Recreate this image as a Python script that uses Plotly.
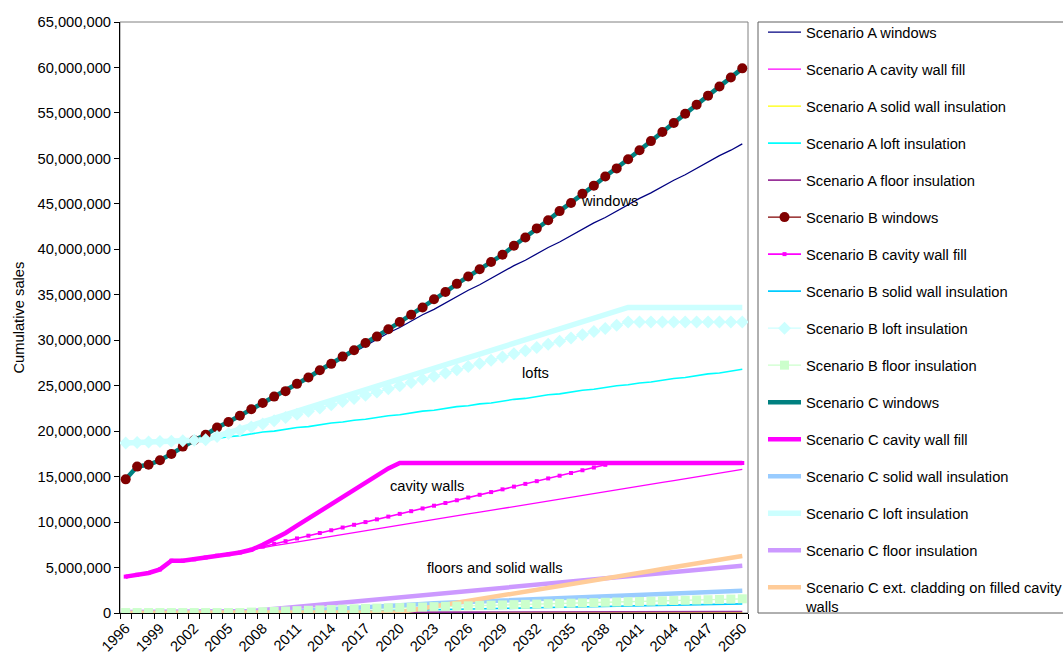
import plotly.graph_objects as go

# ---------------------------------------------------------------
# Cumulative sales of insulation measures and windows, 1996-2050
# (all values in millions of units)
# ---------------------------------------------------------------
years = list(range(1996, 2051))
tick_years = list(range(1996, 2051, 3))

# shared history 1996-2014 for windows
windows_hist = [14.7, 16.1, 16.3, 16.8, 17.5, 18.3, 19.0, 19.6, 20.4, 21.0,
                21.7, 22.4, 23.1, 23.8, 24.4, 25.2, 25.9, 26.7, 27.4]
a_windows_proj = [28.1, 28.7, 29.4, 30.1, 30.8, 31.4, 32.1, 32.8, 33.4, 34.1,
                  34.8, 35.5, 36.1, 36.8, 37.5, 38.2, 38.8, 39.5, 40.2, 40.8,
                  41.5, 42.2, 42.9, 43.5, 44.2, 44.9, 45.6, 46.2, 46.9, 47.6,
                  48.2, 48.9, 49.6, 50.3, 50.9, 51.6]
b_windows_proj = [28.2, 28.9, 29.7, 30.4, 31.2, 32.0, 32.8, 33.6, 34.5, 35.3,
                  36.2, 37.0, 37.8, 38.6, 39.4, 40.4, 41.3, 42.3, 43.2, 44.2,
                  45.1, 46.1, 47.0, 48.0, 48.9, 49.9, 50.9, 51.9, 52.9, 53.9,
                  54.9, 55.9, 56.9, 57.9, 58.9, 59.9]

# shared history 1996-2007 for cavity wall fill
cavity_hist = [4.0, 4.2, 4.4, 4.8, 5.75, 5.75, 5.9, 6.1, 6.3, 6.45, 6.65, 6.95]
a_cavity_proj = [7.20, 7.41, 7.61, 7.82, 8.02, 8.23, 8.43, 8.64, 8.84, 9.05,
                 9.25, 9.46, 9.66, 9.87, 10.07, 10.28, 10.48, 10.68, 10.89, 11.09,
                 11.30, 11.50, 11.71, 11.91, 12.12, 12.32, 12.53, 12.73, 12.94, 13.14,
                 13.35, 13.55, 13.75, 13.96, 14.16, 14.37, 14.57, 14.78, 14.98, 15.19,
                 15.39, 15.60, 15.80]
b_cavity_proj = [7.3, 7.6, 7.9, 8.2, 8.5, 8.8, 9.1, 9.4, 9.7, 10.0,
                 10.3, 10.6, 10.9, 11.2, 11.5, 11.8, 12.1, 12.4, 12.7, 13.0,
                 13.3, 13.6, 13.9, 14.2, 14.5, 14.8, 15.1, 15.4, 15.7, 16.0,
                 16.3, 16.5, 16.5, 16.5, 16.5, 16.5, 16.5, 16.5, 16.5, 16.5,
                 16.5, 16.5, 16.5]
c_cavity_proj = [7.5, 8.1, 8.8, 9.6, 10.4, 11.2, 12.0, 12.8, 13.6, 14.4,
                 15.2, 15.9, 16.5, 16.5, 16.5, 16.5, 16.5, 16.5, 16.5, 16.5,
                 16.5, 16.5, 16.5, 16.5, 16.5, 16.5, 16.5, 16.5, 16.5, 16.5,
                 16.5, 16.5, 16.5, 16.5, 16.5, 16.5, 16.5, 16.5, 16.5, 16.5,
                 16.5, 16.5, 16.5]

# shared history 1996-2003 for loft insulation
loft_hist = [18.7, 18.75, 18.8, 18.85, 18.9, 18.95, 19.0, 19.05]
a_loft_proj = [19.2, 19.4, 19.5, 19.7, 19.9, 20.0, 20.2, 20.4, 20.5, 20.7,
               20.9, 21.0, 21.2, 21.3, 21.5, 21.7, 21.8, 22.0, 22.2, 22.3,
               22.5, 22.7, 22.8, 23.0, 23.1, 23.3, 23.5, 23.6, 23.8, 24.0,
               24.1, 24.3, 24.5, 24.6, 24.8, 25.0, 25.1, 25.3, 25.4, 25.6,
               25.8, 25.9, 26.1, 26.3, 26.4, 26.6, 26.8]
b_loft_proj = [19.40, 19.75, 20.10, 20.45, 20.80, 21.15, 21.50, 21.85, 22.20, 22.55,
               22.90, 23.25, 23.60, 23.95, 24.30, 24.65, 25.00, 25.35, 25.70, 26.05,
               26.40, 26.75, 27.10, 27.45, 27.80, 28.15, 28.50, 28.85, 29.20, 29.55,
               29.90, 30.25, 30.60, 30.95, 31.30, 31.65, 32.00, 32.00, 32.00, 32.00,
               32.00, 32.00, 32.00, 32.00, 32.00, 32.00, 32.00]
c_loft_proj = [19.44, 19.84, 20.23, 20.62, 21.02, 21.41, 21.80, 22.19, 22.59, 22.98,
               23.37, 23.77, 24.16, 24.55, 24.95, 25.34, 25.73, 26.12, 26.52, 26.91,
               27.30, 27.70, 28.09, 28.48, 28.88, 29.27, 29.66, 30.05, 30.45, 30.84,
               31.23, 31.63, 32.02, 32.41, 32.81, 33.20, 33.60, 33.60, 33.60, 33.60,
               33.60, 33.60, 33.60, 33.60, 33.60, 33.60, 33.60]

a_solid = [0.0, 0.0, 0.0, 0.0, 0.0, 0.0, 0.0, 0.0, 0.0, 0.0,
           0.0, 0.0, 0.0, 0.0, 0.0, 0.0, 0.01, 0.01, 0.01, 0.01,
           0.01, 0.01, 0.01, 0.01, 0.02, 0.02, 0.02, 0.02, 0.02, 0.02,
           0.02, 0.02, 0.03, 0.03, 0.03, 0.03, 0.03, 0.03, 0.03, 0.03,
           0.04, 0.04, 0.04, 0.04, 0.04, 0.04, 0.04, 0.04, 0.05, 0.05,
           0.05, 0.05, 0.05, 0.05, 0.05]
a_floor = [0.02, 0.02, 0.02, 0.02, 0.02, 0.02, 0.02, 0.02, 0.02, 0.02,
           0.02, 0.02, 0.03, 0.03, 0.04, 0.04, 0.05, 0.05, 0.06, 0.06,
           0.07, 0.07, 0.07, 0.08, 0.08, 0.08, 0.09, 0.09, 0.09, 0.10,
           0.10, 0.10, 0.11, 0.11, 0.11, 0.11, 0.12, 0.12, 0.12, 0.12,
           0.13, 0.13, 0.13, 0.13, 0.14, 0.14, 0.14, 0.14, 0.14, 0.15,
           0.15, 0.15, 0.15, 0.15, 0.15]
b_solid = [0.0, 0.0, 0.0, 0.0, 0.0, 0.0, 0.0, 0.0, 0.0, 0.0,
           0.0, 0.0, 0.0, 0.02, 0.05, 0.07, 0.10, 0.12, 0.14, 0.17,
           0.19, 0.21, 0.24, 0.26, 0.29, 0.31, 0.33, 0.36, 0.38, 0.40,
           0.43, 0.45, 0.48, 0.50, 0.52, 0.55, 0.57, 0.60, 0.62, 0.64,
           0.67, 0.69, 0.71, 0.74, 0.76, 0.79, 0.81, 0.83, 0.86, 0.88,
           0.90, 0.93, 0.95, 0.98, 1.00]
b_floor = [0.05, 0.05, 0.05, 0.05, 0.05, 0.05, 0.05, 0.05, 0.05, 0.05,
           0.05, 0.10, 0.14, 0.18, 0.22, 0.26, 0.30, 0.34, 0.38, 0.42,
           0.46, 0.50, 0.54, 0.57, 0.60, 0.63, 0.66, 0.70, 0.73, 0.76,
           0.79, 0.82, 0.86, 0.89, 0.92, 0.95, 0.98, 1.02, 1.05, 1.08,
           1.11, 1.14, 1.18, 1.21, 1.24, 1.27, 1.30, 1.34, 1.37, 1.40,
           1.43, 1.46, 1.50, 1.53, 1.56]
c_solid = [0.0, 0.0, 0.0, 0.0, 0.0, 0.0, 0.0, 0.0, 0.0, 0.0,
           0.0, 0.0, 0.0, 0.08, 0.15, 0.23, 0.30, 0.38, 0.45, 0.53,
           0.60, 0.68, 0.75, 0.83, 0.90, 0.95, 1.00, 1.06, 1.11, 1.16,
           1.21, 1.26, 1.32, 1.37, 1.42, 1.47, 1.52, 1.58, 1.63, 1.68,
           1.73, 1.78, 1.84, 1.89, 1.94, 1.99, 2.04, 2.10, 2.15, 2.20,
           2.25, 2.30, 2.36, 2.41, 2.46]
c_floor = [0.10, 0.10, 0.10, 0.10, 0.10, 0.10, 0.10, 0.10, 0.10, 0.10,
           0.10, 0.22, 0.33, 0.45, 0.56, 0.68, 0.80, 0.91, 1.03, 1.14,
           1.26, 1.38, 1.49, 1.61, 1.72, 1.84, 1.96, 2.07, 2.19, 2.30,
           2.42, 2.54, 2.65, 2.77, 2.88, 3.00, 3.12, 3.23, 3.35, 3.46,
           3.58, 3.70, 3.81, 3.93, 4.04, 4.16, 4.28, 4.39, 4.51, 4.62,
           4.74, 4.86, 4.97, 5.09, 5.20]
c_cladding = [0.0, 0.0, 0.0, 0.0, 0.0, 0.0, 0.0, 0.0, 0.0, 0.0,
              0.0, 0.0, 0.0, 0.0, 0.0, 0.0, 0.0, 0.0, 0.0, 0.0,
              0.0, 0.0, 0.0, 0.0, 0.09, 0.30, 0.50, 0.71, 0.91, 1.12,
              1.33, 1.53, 1.74, 1.94, 2.15, 2.36, 2.56, 2.77, 2.97, 3.18,
              3.39, 3.59, 3.80, 4.00, 4.21, 4.42, 4.62, 4.83, 5.03, 5.24,
              5.45, 5.65, 5.86, 6.06, 6.27]

a_windows = windows_hist + a_windows_proj
b_windows = windows_hist + b_windows_proj
c_windows = windows_hist + b_windows_proj
a_cavity = cavity_hist + a_cavity_proj
b_cavity = cavity_hist + b_cavity_proj
c_cavity = cavity_hist + c_cavity_proj
a_loft = loft_hist + a_loft_proj
b_loft = loft_hist + b_loft_proj
c_loft = loft_hist + c_loft_proj

# (name, values, colour, line width, marker symbol, marker size)
series = [
    ("Scenario A windows", a_windows, "#000080", 1.3, None, 0),
    ("Scenario A cavity wall fill", a_cavity, "#FF00FF", 1.3, None, 0),
    ("Scenario A solid wall insulation", a_solid, "#FFFF00", 1.3, None, 0),
    ("Scenario A loft insulation", a_loft, "#00FFFF", 1.6, None, 0),
    ("Scenario A floor insulation", a_floor, "#993399", 1.6, None, 0),
    ("Scenario B windows", b_windows, "#800000", 1.3, "circle", 10),
    ("Scenario B cavity wall fill", b_cavity, "#FF00FF", 1.6, "square", 4),
    ("Scenario B solid wall insulation", b_solid, "#00CCFF", 1.6, None, 0),
    ("Scenario B loft insulation", b_loft, "#CCFFFF", 1.3, "diamond", 10),
    ("Scenario B floor insulation", b_floor, "#CCFFCC", 1.3, "square", 9),
    ("Scenario C windows", c_windows, "#008080", 4.5, None, 0),
    ("Scenario C cavity wall fill", c_cavity, "#FF00FF", 4.5, None, 0),
    ("Scenario C solid wall insulation", c_solid, "#99CCFF", 4.5, None, 0),
    ("Scenario C loft insulation", c_loft, "#CCFFFF", 5.5, None, 0),
    ("Scenario C floor insulation", c_floor, "#CC99FF", 4.5, None, 0),
    ("Scenario C ext. cladding on filled cavity<br>walls", c_cladding, "#FFCC99", 4.5, None, 0),
]
for s in series:
    assert len(s[1]) == len(years), (s[0], len(s[1]))

FONT = "Liberation Sans, Arial, sans-serif"
fig = go.Figure()

# lines first, in series order
for name, vals, col, w, sym, msz in series:
    fig.add_trace(go.Scatter(
        x=years, y=[v * 1e6 for v in vals], mode="lines",
        line=dict(color=col, width=w), showlegend=False, hoverinfo="skip"))

# markers drawn over all the lines
for name, vals, col, w, sym, msz in series:
    if sym:
        fig.add_trace(go.Scatter(
            x=years, y=[v * 1e6 for v in vals], mode="markers",
            marker=dict(symbol=sym, size=msz, color=col, line=dict(width=0)),
            showlegend=False, hoverinfo="skip"))

# legend entries
for i, (name, vals, col, w, sym, msz) in enumerate(series):
    fig.add_trace(go.Scatter(
        x=[None], y=[None], name=name, legendgroup="g%d" % i,
        mode="lines+markers" if sym else "lines",
        line=dict(color=col, width=w),
        marker=dict(symbol=sym or "circle", size=min(msz, 10), color=col, line=dict(width=0)),
        showlegend=True))

labels = [
    ("windows", 2038.4, 45.3),
    ("lofts", 2031.9, 26.4),
    ("cavity walls", 2022.4, 13.97),
    ("floors and solid walls", 2028.3, 4.95),
]
for txt, lx, ly in labels:
    fig.add_annotation(x=lx, y=ly * 1e6, text=txt, showarrow=False,
                       font=dict(family=FONT, size=14.7, color="black"))

fig.add_annotation(xref="paper", yref="paper", x=(18 - 120) / 628, y=0.5,
                   xanchor="center", yanchor="middle",
                   text="Cumulative sales", textangle=-90, showarrow=False,
                   font=dict(family=FONT, size=14.7, color="black"))

# plot-area frame
fig.add_shape(type="rect", xref="paper", yref="paper", x0=0, x1=1, y0=0, y1=1,
              line=dict(color="#808080", width=1), layer="below")
# legend frame, running off the right edge of the page
fig.add_shape(type="rect", xref="paper", yref="paper",
              x0=(758 - 120) / 628, x1=(1080 - 120) / 628, y0=0, y1=1,
              line=dict(color="#606060", width=1), layer="below")

fig.update_layout(
    width=1063, height=657,
    margin=dict(l=120, r=315, t=22, b=44, autoexpand=False),
    paper_bgcolor="white", plot_bgcolor="white",
    font=dict(family=FONT, size=14.7, color="black"),
    showlegend=True,
    legend=dict(
        x=(763 - 120) / 628, y=1 + 6 / 591, xanchor="left", yanchor="top",
        borderwidth=0, bgcolor="rgba(0,0,0,0)", maxheight=640,
        traceorder="grouped", tracegroupgap=14.9, valign="top",
        font=dict(family=FONT, size=14.7, color="black"),
        itemwidth=33,
    ),
    xaxis=dict(
        range=[1995.5, 2050.5], tickmode="linear", tick0=1996, dtick=3,
        tickformat="d", tickangle=-45, ticks="", showgrid=False, zeroline=False,
        showline=True, linecolor="black", linewidth=1,
        minor=dict(tick0=1995.5, dtick=1, ticks="outside", ticklen=5,
                   tickcolor="black", showgrid=False),
        tickfont=dict(family=FONT, size=14.7, color="black"),
    ),
    yaxis=dict(
        range=[0, 65e6], tickmode="linear", tick0=0, dtick=5e6,
        tickformat=",.0f", ticks="outside", ticklen=5, tickcolor="black",
        showgrid=False, zeroline=False, showline=True, linecolor="black",
        linewidth=1, tickfont=dict(family=FONT, size=14.7, color="black"),
    ),
)

fig.write_html("out.html")
